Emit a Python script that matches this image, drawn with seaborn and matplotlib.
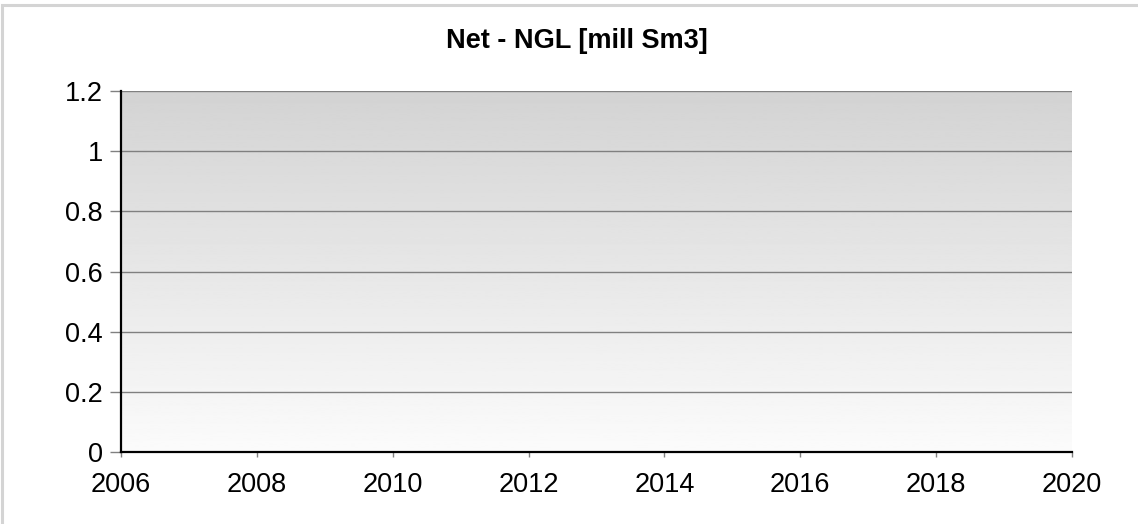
import numpy as np
import pandas as pd
import seaborn as sns
import matplotlib.pyplot as plt
from matplotlib.patches import Rectangle
from matplotlib.ticker import FormatStrFormatter

# data (the chart has no series to plot, only the axes)
years = []
values = []
x_ticks = [2006, 2008, 2010, 2012, 2014, 2016, 2018, 2020]
y_ticks = [0, 0.2, 0.4, 0.6, 0.8, 1.0, 1.2]
title = 'Net - NGL [mill Sm3]'

sns.set_style('white')
plt.rcParams['font.family'] = ['Liberation Sans', 'DejaVu Sans']
plt.rcParams['text.color'] = 'black'

fig = plt.figure(figsize=(11.38, 5.24), dpi=100)
ax = fig.add_axes([121 / 1138, 1 - 452 / 524, (1072 - 121) / 1138, (452 - 91) / 524])

# gradient background, gray at top to near white at bottom
grad = np.linspace(0.827, 0.985, 256).reshape(-1, 1)
ax.imshow(grad, cmap='gray', vmin=0, vmax=1, aspect='auto',
          extent=[0, 1, 0, 1], transform=ax.transAxes, zorder=0)

df = pd.DataFrame({'year': years, 'value': values})
if len(df):
    sns.lineplot(data=df, x='year', y='value', ax=ax)

ax.set_xlim(x_ticks[0], x_ticks[-1])
ax.set_ylim(y_ticks[0], y_ticks[-1])
ax.set_xticks(x_ticks)
ax.set_yticks(y_ticks)
ax.yaxis.set_major_formatter(FormatStrFormatter('%g'))
ax.set_xlabel('')
ax.set_ylabel('')

ax.grid(axis='y', color='#808080', linewidth=1.0)
for gl in ax.get_ygridlines():
    gl.set_zorder(1)

for s in ['top', 'right']:
    ax.spines[s].set_visible(False)
for s in ['left', 'bottom']:
    ax.spines[s].set_color('black')
    ax.spines[s].set_linewidth(1.6)
    ax.spines[s].set_zorder(3)

ax.tick_params(axis='y', length=8, width=1, color='#808080', pad=5, labelsize=19.5,
               labelcolor='black', left=True)
ax.tick_params(axis='x', length=3.6, width=1, color='#808080', pad=11, labelsize=19.5,
               labelcolor='black', bottom=True)

fig.text(577 / 1138, 1 - 41 / 524, title, ha='center', va='center',
         fontsize=19.5, fontweight='bold', color='black')

# light frame around the figure
fig.patches.append(Rectangle((2 / 1138, -0.1), 1.2, 1.1 - 5 / 524,
                             transform=fig.transFigure, fill=False,
                             edgecolor='#d4d4d4', linewidth=2.2))

fig.savefig('out.png', dpi=100)
